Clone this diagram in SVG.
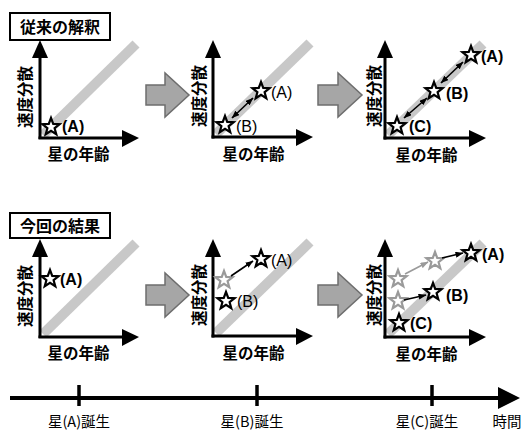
<svg xmlns="http://www.w3.org/2000/svg" width="524" height="430" viewBox="0 0 524 430">
<style>
.jp{font-family:"Noto Sans CJK JP","Liberation Sans",sans-serif;fill:#000}
.ttl{font-size:16px;font-weight:bold}
.ax{font-size:15.5px;font-weight:bold}
.lbl{font-family:"Liberation Sans","Noto Sans CJK JP",sans-serif;font-size:16px;font-weight:bold;fill:#000}
.lbn{font-family:"Liberation Sans","Noto Sans CJK JP",sans-serif;font-size:16px;fill:#000}
.tl{font-size:14.5px}
.box{fill:#fff;stroke:#000;stroke-width:2}
.axis{stroke:#000;stroke-width:3;fill:none}
.band{stroke:#c8c8c8;stroke-width:10;fill:none}
.big{fill:#a6a6a6;stroke:#6e6e6e;stroke-width:1.5}
.st{fill:#fff;stroke:#000;stroke-width:2.2;stroke-linejoin:miter}
.sg{fill:#fff;stroke:#9a9a9a;stroke-width:2.2;stroke-linejoin:miter}
.ar{stroke:#000;stroke-width:1.6;fill:none}
.ag{stroke:#9a9a9a;stroke-width:1.6;fill:none}
</style>
<defs>
<path id="star" d="M0,-9 L2.23,-3.07 L8.56,-2.78 L3.61,1.17 L5.29,7.28 L0,3.8 L-5.29,7.28 L-3.61,1.17 L-8.56,-2.78 L-2.23,-3.07 Z"/>
<marker id="mb" viewBox="0 0 8 6" refX="7.5" refY="3" markerWidth="8" markerHeight="6" markerUnits="userSpaceOnUse" orient="auto-start-reverse"><path d="M0,0 L8,3 L0,6 Z" fill="#000"/></marker>
<marker id="mg" viewBox="0 0 8 6" refX="7.5" refY="3" markerWidth="8" markerHeight="6" markerUnits="userSpaceOnUse" orient="auto-start-reverse"><path d="M0,0 L8,3 L0,6 Z" fill="#9a9a9a"/></marker>
</defs>

<!-- TOP ROW -->
<g id="top-title">
<rect class="box" x="10" y="13" width="100" height="27"/>
<text class="jp ttl" x="60" y="33" text-anchor="middle">従来の解釈</text>
</g>

<g id="top-plot1">
<line class="band" x1="43" y1="135" x2="136" y2="44"/>
<line class="axis" x1="40" y1="139" x2="40" y2="56"/>
<polygon points="32,58 40,40 48,58"/>
<line class="axis" x1="38.5" y1="138" x2="123" y2="138"/>
<polygon points="122,130 139,138 122,147"/>
<text class="jp ax" transform="translate(31,97) rotate(-90)" text-anchor="middle">速度分散</text>
<text class="jp ax" x="78.5" y="160" text-anchor="middle">星の年齢</text>
</g>
<g id="top-p1-starA">
<use href="#star" class="st" x="51" y="127"/>
<text class="lbl" x="62" y="132">(A)</text>
</g>

<g id="top-bigarrow1"><polygon class="big" points="146,85 165,85 165,73 189,95 165,117 165,105 146,105"/></g>

<g id="top-plot2">
<line class="band" x1="216" y1="134" x2="310" y2="43"/>
<line class="axis" x1="213" y1="138.5" x2="213" y2="56"/>
<polygon points="205,58 213,40 221,58"/>
<line class="axis" x1="211.5" y1="137" x2="297" y2="137"/>
<polygon points="296,129 313,137 296,146"/>
<text class="jp ax" transform="translate(205,96) rotate(-90)" text-anchor="middle">速度分散</text>
<text class="jp ax" x="253.5" y="160" text-anchor="middle">星の年齢</text>
</g>
<g id="top-p2-starB">
<use href="#star" class="st" x="225" y="125"/>
<text class="lbn" x="236" y="132">(B)</text>
</g>
<g id="top-p2-starA">
<use href="#star" class="st" x="261" y="91"/>
<text class="lbn" x="271" y="98">(A)</text>
</g>

<g id="top-bigarrow2"><polygon class="big" points="318,85 338,85 338,73 362,95 338,117 338,105 318,105"/></g>

<g id="top-plot3">
<line class="band" x1="388" y1="135" x2="483" y2="44"/>
<line class="axis" x1="385" y1="139.5" x2="385" y2="56"/>
<polygon points="377,58 385,40 393,58"/>
<line class="axis" x1="383.5" y1="138" x2="470" y2="138"/>
<polygon points="469,130 486,138 469,147"/>
<text class="jp ax" transform="translate(380,96) rotate(-90)" text-anchor="middle">速度分散</text>
<text class="jp ax" x="426.5" y="161" text-anchor="middle">星の年齢</text>
</g>
<g id="top-p3-starC">
<use href="#star" class="st" x="397" y="126"/>
<text class="lbl" x="409" y="132">(C)</text>
</g>
<g id="top-p3-starB">
<use href="#star" class="st" x="434" y="91"/>
<text class="lbl" x="446" y="99">(B)</text>
</g>
<g id="top-p3-starA">
<use href="#star" class="st" x="471" y="55"/>
<text class="lbl" x="481" y="62">(A)</text>
</g>

<!-- BOTTOM ROW -->
<g transform="translate(0,199)">
<g id="bot-title">
<rect class="box" x="10" y="14" width="100" height="25"/>
<text class="jp ttl" x="60" y="33" text-anchor="middle">今回の結果</text>
</g>

<g id="bot-plot1">
<line class="band" x1="43" y1="135" x2="136" y2="44"/>
<line class="axis" x1="40" y1="139" x2="40" y2="56"/>
<polygon points="32,58 40,40 48,58"/>
<line class="axis" x1="38.5" y1="138" x2="123" y2="138"/>
<polygon points="122,130 139,138 122,147"/>
<text class="jp ax" transform="translate(31,97) rotate(-90)" text-anchor="middle">速度分散</text>
<text class="jp ax" x="78.5" y="160" text-anchor="middle">星の年齢</text>
</g>
<g id="bot-p1-starA">
<use href="#star" class="st" x="50" y="80"/>
<text class="lbl" x="60" y="86">(A)</text>
</g>

<g id="bot-bigarrow1"><polygon class="big" points="146,86 165,86 165,74 189,96 165,118 165,106 146,106"/></g>

<g id="bot-plot2">
<line class="band" x1="216" y1="134" x2="310" y2="43"/>
<line class="axis" x1="213" y1="138.5" x2="213" y2="56"/>
<polygon points="205,58 213,40 221,58"/>
<line class="axis" x1="211.5" y1="137" x2="297" y2="137"/>
<polygon points="296,129 313,137 296,146"/>
<text class="jp ax" transform="translate(205,96) rotate(-90)" text-anchor="middle">速度分散</text>
<text class="jp ax" x="253.5" y="160" text-anchor="middle">星の年齢</text>
</g>
<g id="bot-p2-starA0"><use href="#star" class="sg" x="224" y="81"/></g>
<g id="bot-p2-starB">
<use href="#star" class="st" x="226" y="102"/>
<text class="lbn" x="237" y="108">(B)</text>
</g>
<g id="bot-p2-starA">
<use href="#star" class="st" x="261" y="60"/>
<text class="lbn" x="271" y="67">(A)</text>
</g>

<g id="bot-bigarrow2"><polygon class="big" points="318,86 338,86 338,74 362,96 338,118 338,106 318,106"/></g>

<g id="bot-plot3">
<line class="band" x1="388" y1="135" x2="483" y2="44"/>
<line class="axis" x1="385" y1="139.5" x2="385" y2="56"/>
<polygon points="377,58 385,40 393,58"/>
<line class="axis" x1="383.5" y1="138" x2="470" y2="138"/>
<polygon points="469,130 486,138 469,147"/>
<text class="jp ax" transform="translate(380,96) rotate(-90)" text-anchor="middle">速度分散</text>
<text class="jp ax" x="426.5" y="161" text-anchor="middle">星の年齢</text>
</g>
<g id="bot-p3-starA0"><use href="#star" class="sg" x="398" y="80"/></g>
<g id="bot-p3-starB0"><use href="#star" class="sg" x="398" y="102"/></g>
<g id="bot-p3-starA1"><use href="#star" class="sg" x="435" y="62"/></g>
<g id="bot-p3-starC">
<use href="#star" class="st" x="399" y="124"/>
<text class="lbl" x="410" y="130">(C)</text>
</g>
<g id="bot-p3-starB">
<use href="#star" class="st" x="433" y="93"/>
<text class="lbl" x="446" y="102">(B)</text>
</g>
<g id="bot-p3-starA">
<use href="#star" class="st" x="471" y="54"/>
<text class="lbl" x="482" y="61">(A)</text>
</g>
</g>

<!-- CONNECTORS -->
<g id="connectors">
<line class="ar" x1="232" y1="118" x2="253" y2="98" marker-start="url(#mb)" marker-end="url(#mb)"/>
<line class="ar" x1="404" y1="118" x2="427" y2="98" marker-start="url(#mb)" marker-end="url(#mb)"/>
<line class="ar" x1="441" y1="83" x2="463" y2="62" marker-start="url(#mb)" marker-end="url(#mb)"/>
<line class="ar" x1="231" y1="276" x2="253" y2="261" marker-end="url(#mb)"/>
<line class="ag" x1="405" y1="274" x2="428" y2="262" marker-end="url(#mg)"/>
<line class="ar" x1="442" y1="258" x2="463" y2="253" marker-end="url(#mb)"/>
<line class="ar" x1="404" y1="300" x2="426" y2="295" marker-end="url(#mb)"/>
</g>

<!-- TIMELINE -->
<g id="timeline">
<line x1="10" y1="398" x2="500" y2="398" stroke="#000" stroke-width="4"/>
<polygon points="498,387 520,398 498,409"/>
<line x1="79" y1="385" x2="79" y2="406" stroke="#000" stroke-width="3.5"/>
<line x1="257" y1="385" x2="257" y2="406" stroke="#000" stroke-width="3.5"/>
<line x1="432" y1="385" x2="432" y2="406" stroke="#000" stroke-width="3.5"/>
<text class="jp tl" x="79" y="427" text-anchor="middle">星(A)誕生</text>
<text class="jp tl" x="252" y="427" text-anchor="middle">星(B)誕生</text>
<text class="jp tl" x="427" y="427" text-anchor="middle">星(C)誕生</text>
<text class="jp tl" x="507" y="427" text-anchor="middle">時間</text>
</g>
</svg>
